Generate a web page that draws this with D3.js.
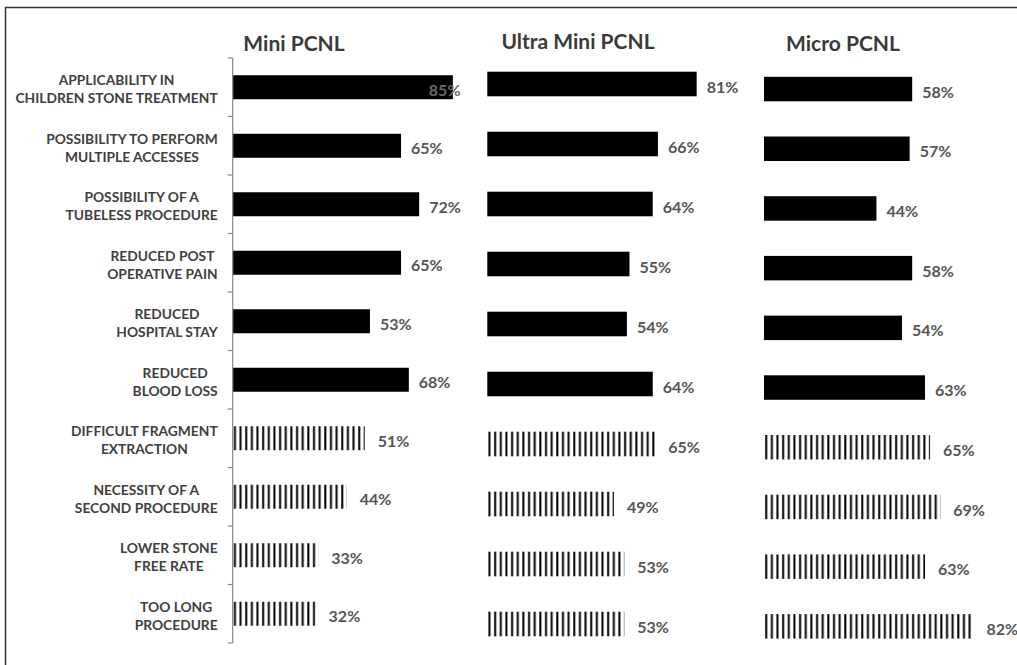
<!DOCTYPE html>
<html>
<head>
<meta charset="utf-8">
<script src="https://cdn.jsdelivr.net/npm/d3@7"></script>
<style>
  html, body { margin: 0; padding: 0; background: #fff; }
  svg { display: block; }
  text { font-family: Lato, "Open Sans", sans-serif; font-weight: 700; }
</style>
</head>
<body>
<script>
// ---------- data ----------
const categories = [
  "APPLICABILITY IN|CHILDREN STONE TREATMENT",
  "POSSIBILITY TO PERFORM|MULTIPLE ACCESSES",
  "POSSIBILITY OF A|TUBELESS PROCEDURE",
  "REDUCED POST|OPERATIVE PAIN",
  "REDUCED|HOSPITAL STAY",
  "REDUCED|BLOOD LOSS",
  "DIFFICULT FRAGMENT|EXTRACTION",
  "NECESSITY OF A|SECOND PROCEDURE",
  "LOWER STONE|FREE RATE",
  "TOO LONG|PROCEDURE"
];
// first six are advantages (solid), last four disadvantages (hatched)
const categoryKind = ["adv","adv","adv","adv","adv","adv","dis","dis","dis","dis"];
const panelTitles = ["Mini PCNL", "Ultra Mini PCNL", "Micro PCNL"];
const miniValues  = [85, 65, 72, 65, 53, 68, 51, 44, 33, 32];
const ultraValues = [81, 66, 64, 55, 54, 64, 65, 49, 53, 53];
const microValues = [58, 57, 44, 58, 54, 63, 65, 69, 63, 82];

// ---------- layout ----------
const W = 1017, H = 665;
const svg = d3.select("body").append("svg").attr("width", W).attr("height", H);

const defs = svg.append("defs");

// outer frame
svg.append("rect")
  .attr("x", 5.5).attr("y", 7.5).attr("width", 1100).attr("height", 1000)
  .attr("fill", "none").attr("stroke", "#333").attr("stroke-width", 1.5);

const panels = [
  { title: panelTitles[0], values: miniValues,  x0: 232.7, pxPerUnit: 2.59,  yr: [58, 643],     titleX: 294, titleY: 51, axis: true },
  { title: panelTitles[1], values: ultraValues, x0: 487.3, pxPerUnit: 2.585, yr: [54, 654],     titleX: 578, titleY: 49, axis: false },
  { title: panelTitles[2], values: microValues, x0: 764,   pxPerUnit: 2.555, yr: [59.2, 656.2], titleX: 843, titleY: 51, axis: false }
];

panels.forEach((p, pi) => {
  const g = svg.append("g");
  const x = d3.scaleLinear().domain([0, 100]).range([p.x0, p.x0 + 100 * p.pxPerUnit]);
  const y = d3.scaleBand().domain(categories).range(p.yr).paddingInner(0.59).paddingOuter(0.295);

  const pat = defs.append("pattern")
    .attr("id", "hatch" + pi)
    .attr("patternUnits", "userSpaceOnUse")
    .attr("x", p.x0).attr("y", 0)
    .attr("width", 5.65).attr("height", 10);
  pat.append("rect").attr("x", 1.2).attr("y", 0).attr("width", 2).attr("height", 10).attr("fill", "#000");

  // title
  g.append("text")
    .attr("x", p.titleX).attr("y", p.titleY)
    .attr("text-anchor", "middle")
    .attr("font-size", 21)
    .attr("fill", "#3a3a3a")
    .text(p.title);

  const rows = categories.map((c, i) => ({ c, v: p.values[i], kind: categoryKind[i] }));

  // bars
  g.selectAll("rect.bar").data(rows).join("rect")
    .attr("class", "bar")
    .attr("x", x(0))
    .attr("y", d => y(d.c))
    .attr("width", d => x(d.v) - x(0))
    .attr("height", y.bandwidth())
    .attr("fill", d => d.kind === "adv" ? "#000" : `url(#hatch${pi})`);

  // value labels
  g.selectAll("text.val").data(rows).join("text")
    .attr("class", "val")
    .attr("x", d => (d.v >= 85) ? x(d.v) - 24 : x(d.v) + (d.kind === "adv" ? 10 : 13))
    .attr("y", d => y(d.c) + y.bandwidth() / 2 + 3)
    .attr("dy", "0.35em")
    .attr("font-size", 16)
    .attr("fill", d => d.v >= 85 ? "#6a6a6a" : "#555")
    .text(d => d.v + "%");

  if (p.axis) {
    const [y0, y1] = y.range();
    g.append("line")
      .attr("x1", p.x0).attr("x2", p.x0).attr("y1", y0).attr("y2", y1)
      .attr("stroke", "#888").attr("stroke-width", 1.2);
    const bounds = d3.range(categories.length + 1).map(i => y0 + i * y.step());
    g.selectAll("line.tick").data(bounds).join("line")
      .attr("class", "tick")
      .attr("x1", p.x0 - 5).attr("x2", p.x0)
      .attr("y1", d => d).attr("y2", d => d)
      .attr("stroke", "#888").attr("stroke-width", 1.2);

    // category labels: block right-aligned near axis, lines centred within block
    const labelRight = p.x0 - 15;
    const lg = g.append("g");
    rows.forEach(d => {
      const lines = d.c.split("|");
      const cy = y(d.c) + y.bandwidth() / 2;
      const t = lg.append("text")
        .attr("font-size", 13.8)
        .attr("fill", "#404040")
        .attr("text-anchor", "middle");
      lines.forEach((ln, li) => {
        t.append("tspan")
          .attr("x", 0)
          .attr("y", cy + (li - (lines.length - 1) / 2) * 18 + 2)
          .attr("dy", "0.35em")
          .text(ln);
      });
      let maxW = 0;
      t.selectAll("tspan").each(function () { maxW = Math.max(maxW, this.getComputedTextLength()); });
      t.selectAll("tspan").attr("x", labelRight - maxW / 2);
    });
  }
});
</script>
</body>
</html>
